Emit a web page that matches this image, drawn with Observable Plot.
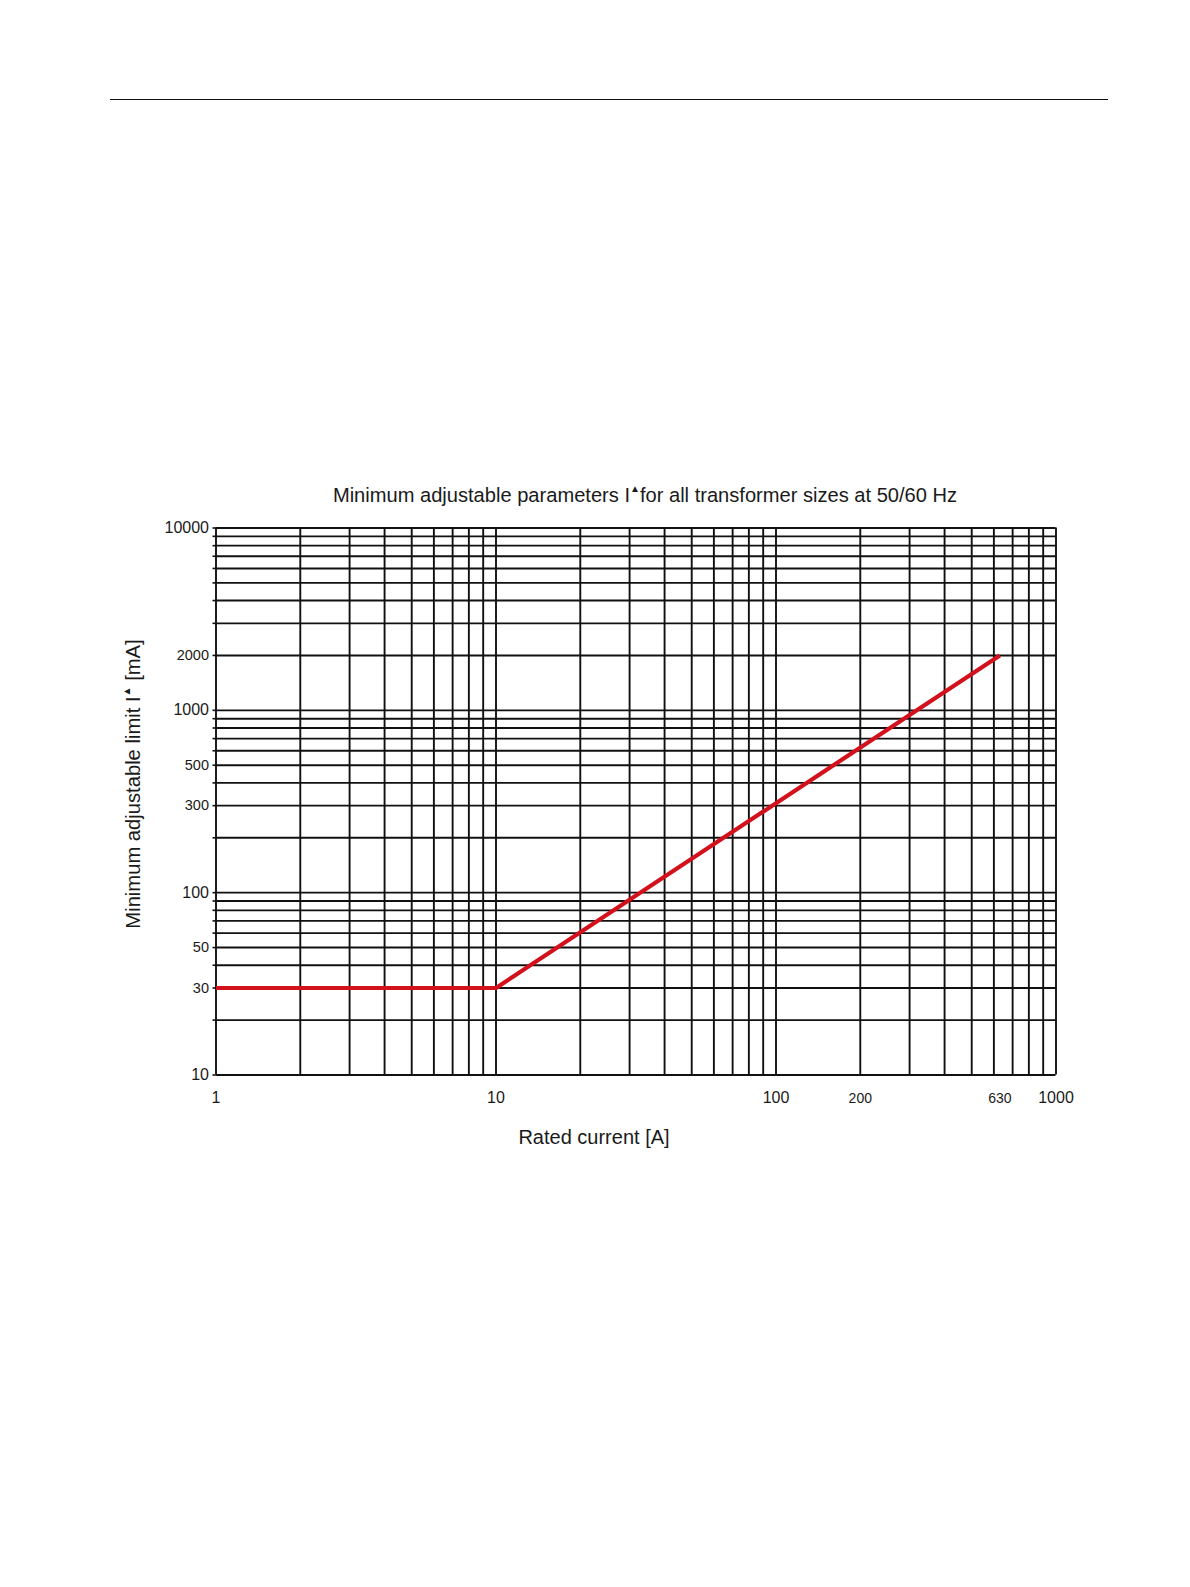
<!DOCTYPE html>
<html>
<head>
<meta charset="utf-8">
<script src="https://cdn.jsdelivr.net/npm/d3@7"></script>
<script src="https://cdn.jsdelivr.net/npm/@observablehq/plot@0.6"></script>
<style>
  html, body { margin: 0; padding: 0; background: #fff; }
  body { width: 1190px; height: 1587px; position: relative; overflow: hidden;
         font-family: "Liberation Sans", Arial, Helvetica, sans-serif; color: #1a1a1a; }
  .rule { position: absolute; left: 110px; top: 98.5px; width: 998px; height: 0; border-top: 1.7px solid #111; }
  .title { position: absolute; left: 0; width: 1290px; top: 478px; text-align: center; font-size: 20.1px; line-height: 22px; white-space: nowrap; }
  .xlabel { position: absolute; left: 0; width: 1188px; top: 1126px; text-align: center; font-size: 20px; line-height: 22px; }
  .ylabel { position: absolute; left: 129.5px; top: 784px; transform: translate(-50%, -50%) rotate(-90deg); font-size: 20.2px; line-height: 22px; white-space: nowrap; }
  .tri { font-size: 0.5em; vertical-align: 0.95em; }
  #chart { position: absolute; left: 0; top: 500px; }
</style>
</head>
<body>
<div class="rule"></div>
<div class="title">Minimum adjustable parameters I<span class="tri">▲</span>for all transformer sizes at 50/60 Hz</div>
<div class="ylabel">Minimum adjustable limit I<span class="tri">▲</span> [mA]</div>
<div class="xlabel">Rated current [A]</div>
<div id="chart"></div>
<script>
// Curve: rated current [A] vs minimum adjustable limit [mA]
const ratedCurrent = [1, 10, 630];
const minLimit = [30, 30, 2000];

// Grid lines (log paper)
const xGrid = [1, 2, 3, 4, 5, 6, 7, 8, 9, 10, 20, 30, 40, 50, 60, 70, 80, 90, 100, 200, 300, 400, 500, 600, 700, 800, 900, 1000];
const yGrid = [10, 20, 30, 40, 50, 60, 70, 80, 90, 100, 200, 300, 400, 500, 600, 700, 800, 900, 1000, 2000, 3000, 4000, 5000, 6000, 7000, 8000, 9000, 10000];

// Tick labels
const xMajorTicks = [1, 10, 100, 1000];
const xMinorTicks = [200, 630];
const yMajorTicks = [10, 100, 1000, 10000];
const yMinorTicks = [30, 50, 300, 500, 2000];

const curve = ratedCurrent.map((x, i) => ({x, y: minLimit[i]}));
const ink = "#1a1a1a";

const chart = Plot.plot({
  width: 1190,
  height: 620,
  marginLeft: 215.5,
  marginRight: 134.5,
  marginTop: 27.5,
  marginBottom: 45.5,
  style: { fontFamily: '"Liberation Sans", Arial, sans-serif', color: ink, background: "transparent" },
  x: { type: "log", domain: [1, 1000], axis: null },
  y: { type: "log", domain: [10, 10000], axis: null },
  marks: [
    Plot.ruleX(xGrid, { stroke: "#111", strokeWidth: 1.9 }),
    Plot.ruleY(yGrid, { stroke: "#111", strokeWidth: 1.9 }),
    // small outward ticks on the left edge
    Plot.ruleY(yGrid, { x1: 1, x2: 1, insetLeft: -3, stroke: "#111", strokeWidth: 1.6 }),
    Plot.text(yMajorTicks, { y: d => d, frameAnchor: "left", dx: -7, textAnchor: "end", fontSize: 16, text: d => String(d), fill: ink }),
    Plot.text(yMinorTicks, { y: d => d, frameAnchor: "left", dx: -7, textAnchor: "end", fontSize: 14.5, text: d => String(d), fill: ink }),
    Plot.text(xMajorTicks, { x: d => d, frameAnchor: "bottom", dy: 28, fontSize: 16, text: d => String(d), fill: ink }),
    Plot.text(xMinorTicks, { x: d => d, frameAnchor: "bottom", dy: 28, fontSize: 14, text: d => String(d), fill: ink }),
    Plot.line(curve, { x: "x", y: "y", stroke: "#d3111c", strokeWidth: 4.2, strokeLinecap: "butt", strokeLinejoin: "round" })
  ]
});
document.getElementById("chart").appendChild(chart);
</script>
</body>
</html>
